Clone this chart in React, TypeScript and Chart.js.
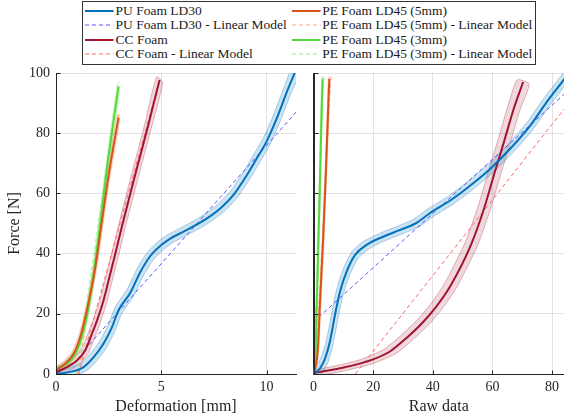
import React, { useEffect, useRef } from 'react';
import { Chart, registerables } from 'chart.js';

Chart.register(...registerables);

// ---------- labels & ticks ----------
const seriesLabels = [
  'PU Foam LD30',
  'PU Foam LD30 - Linear Model',
  'CC Foam',
  'CC Foam - Linear Model',
  'PE Foam LD45 (5mm)',
  'PE Foam LD45 (5mm) - Linear Model',
  'PE Foam LD45 (3mm)',
  'PE Foam LD45 (3mm) - Linear Model',
];
const leftXLabel = 'Deformation [mm]';
const rightXLabel = 'Raw data';
const yLabel = 'Force [N]';
const leftXTicks = [0, 5, 10];
const rightXTicks = [0, 20, 40, 60, 80];
const yTicks = [0, 20, 40, 60, 80, 100];

// ---------- left panel: deformation [mm] vs force [N] ----------
const puDef = [0, 0.68, 1.31, 1.79, 2.26, 2.66, 2.97, 3.53, 4.0, 4.48, 5.03, 5.43, 6.06, 6.7, 7.17, 7.8, 8.43, 9.07, 9.54, 10.0, 10.49, 10.97, 11.36];
const puForceDef = [0, 0.7, 2.3, 5.6, 10.1, 15.6, 21.2, 27.0, 33.8, 39.2, 43.0, 45.0, 47.3, 49.7, 51.7, 55.0, 59.5, 66.1, 71.7, 77.2, 85.0, 93.8, 100.4];
const ccDef = [0, 0.52, 1.0, 1.39, 1.71, 1.95, 2.26, 2.58, 2.82, 3.13, 3.68, 4.32, 4.92];
const ccForceDef = [0.5, 2.3, 4.5, 7.9, 13.4, 17.8, 24.5, 33.4, 40.0, 49.0, 64.0, 81.0, 97.7];
const pe5Def = [0, 0.44, 0.84, 1.15, 1.39, 1.63, 1.87, 2.1, 2.5, 2.97];
const pe5ForceDef = [1.2, 3.5, 6.8, 12.3, 18.9, 26.7, 35.5, 46.6, 66.1, 85.2];
const pe3Def = [0, 0.52, 1.0, 1.31, 1.55, 1.79, 2.02, 2.42, 2.97];
const pe3ForceDef = [1.7, 3.5, 7.9, 14.5, 22.3, 33.4, 45.5, 68.3, 95.5];

const puLinDef = [1.35, 11.6];
const puLinForceDef = [8.0, 88.5];
const ccLinDef = [1.07, 4.95];
const ccLinForceDef = [0, 98.5];
const pe5LinDef = [1.05, 3.0];
const pe5LinForceDef = [0, 87];
const pe3LinDef = [0.98, 2.98];
const pe3LinForceDef = [0, 97];

// ---------- right panel: raw data vs force [N] ----------
const puRaw = [0, 2.2, 3.9, 5.5, 7.2, 8.9, 11.1, 13.9, 17.8, 23.3, 28.9, 34.4, 39.4, 46.1, 52.8, 59.4, 66.1, 72.8, 78.3, 83.9, 86.0];
const puForceRaw = [0, 1.9, 5.2, 10.8, 19.6, 27.4, 34.0, 39.5, 42.9, 45.6, 47.8, 50.1, 53.7, 57.8, 62.8, 68.3, 75.0, 82.7, 90.5, 97.7, 100.4];
const ccRaw = [0, 8.9, 17.8, 25.5, 31.1, 36.7, 41.1, 46.1, 52.8, 57.2, 60.5, 63.9, 67.2, 70.3];
const ccForceRaw = [0.3, 1.9, 4.1, 7.4, 11.9, 17.2, 22.3, 29.6, 42.9, 55.0, 66.1, 77.2, 88.3, 97.0];
const pe5Raw = [0, 1.4, 2.2, 3.3, 4.2, 5.0, 5.3];
const pe5ForceRaw = [0, 7.4, 24.0, 46.2, 68.3, 90.5, 98.0];
const pe3Raw = [0, 0.5, 1.1, 2.0, 2.8, 3.1];
const pe3ForceRaw = [0, 1.9, 24.0, 57.3, 90.5, 98.0];

const puLinRaw = [0, 84];
const puLinForceRaw = [17.3, 92.9];
const ccLinRaw = [14, 84];
const ccLinForceRaw = [0, 88];
const pe5LinRaw = [0.6, 5.9];
const pe5LinForceRaw = [0, 100];
const pe3LinRaw = [0.2, 3.3];
const pe3LinForceRaw = [0, 100];

// spread of the shaded bands (x shift, y shift) per panel
const leftSpread = { pu: [0.15, 1.2], cc: [0.14, 1.0], pe5: [0.06, 0.8], pe3: [0.06, 0.8] };
const rightSpread = { pu: [1.0, 1.2], cc: [2.0, 0.7], pe5: [0.3, 0.6], pe3: [0.3, 0.6] };

// ---------- styles ----------
const FONT = '"Liberation Serif", "DejaVu Serif", serif';
const AXIS = '#262626';
const GRID = 'rgba(38,38,38,0.13)';
const COLORS = {
  pu: '#0072BD', puLin: '#5a5aff', puFill: 'rgba(0,114,189,0.20)', puEdge: 'rgba(0,114,189,0.38)',
  cc: '#A2142F', ccLin: '#ff6666', ccFill: 'rgba(162,20,47,0.16)', ccEdge: 'rgba(162,20,47,0.38)',
  pe5: '#D95319', pe5Lin: '#ffa37a', pe5Fill: 'rgba(217,83,25,0.16)', pe5Edge: 'rgba(217,83,25,0.30)',
  pe3: '#55D93A', pe3Lin: '#85f585', pe3Fill: 'rgba(85,217,58,0.16)', pe3Edge: 'rgba(85,217,58,0.30)',
};

const pts = (xs: number[], ys: number[]) => xs.map((x, i) => ({ x, y: ys[i] }));

function band(xs: number[], ys: number[], s: number[]) {
  const up = xs.map((x, i) => ({ x: x - s[0], y: ys[i] + s[1] }));
  const lo = xs.map((x, i) => ({ x: x + s[0], y: ys[i] - s[1] })).reverse();
  return [...up, ...lo, up[0]];
}

type Mat = { key: 'pu' | 'cc' | 'pe5' | 'pe3'; xs: number[]; ys: number[]; lx: number[]; ly: number[] };

function datasets(mats: Mat[], spread: Record<string, number[]>) {
  const out: any[] = [];
  mats.forEach((m) => {
    const c: any = COLORS;
    out.push({
      data: band(m.xs, m.ys, spread[m.key]),
      borderColor: c[m.key + 'Edge'],
      backgroundColor: c[m.key + 'Fill'],
      borderWidth: 0.8,
      fill: 'shape',
      tension: 0.2,
      pointRadius: 0,
      order: 3,
      clip: 0,
    });
    out.push({
      data: pts(m.lx, m.ly),
      borderColor: c[m.key + 'Lin'],
      borderWidth: 1,
      borderDash: [4, 3],
      fill: false,
      pointRadius: 0,
      order: 2,
      clip: 0,
    });
    out.push({
      data: pts(m.xs, m.ys),
      borderColor: c[m.key],
      borderWidth: 2,
      fill: false,
      cubicInterpolationMode: 'monotone',
      pointRadius: 0,
      order: 1,
      clip: 0,
    });
  });
  return out;
}

const inwardTicks = {
  id: 'inwardTicks',
  afterDraw(chart: any) {
    const { ctx, chartArea, scales } = chart;
    const xs = scales.x;
    const ys = scales.y;
    ctx.save();
    ctx.strokeStyle = AXIS;
    ctx.lineWidth = 1;
    ctx.beginPath();
    const b = Math.round(chartArea.bottom) + 0.5;
    const l = Math.round(chartArea.left) + 0.5;
    xs.ticks.forEach((t: any) => {
      const px = Math.round(xs.getPixelForValue(t.value)) + 0.5;
      ctx.moveTo(px, b);
      ctx.lineTo(px, b - 4);
    });
    ys.ticks.forEach((t: any) => {
      const py = Math.round(ys.getPixelForValue(t.value)) + 0.5;
      ctx.moveTo(l, py);
      ctx.lineTo(l + 4, py);
    });
    ctx.moveTo(l, chartArea.top);
    ctx.lineTo(l, b);
    ctx.lineTo(chartArea.right, b);
    ctx.stroke();
    ctx.restore();
  },
};

function makeConfig(opts: {
  mats: Mat[]; spread: Record<string, number[]>; xMax: number; xTicks: number[];
  xTitle: string; showY: boolean; yWidth: number; padRight: number;
}) {
  return {
    type: 'line',
    data: { datasets: datasets(opts.mats, opts.spread) },
    plugins: [inwardTicks],
    options: {
      animation: false,
      responsive: false,
      maintainAspectRatio: false,
      layout: { padding: { top: 73, right: opts.padRight, left: 0, bottom: 0 } },
      plugins: { legend: { display: false }, tooltip: { enabled: false } },
      scales: {
        x: {
          type: 'linear',
          min: 0,
          max: opts.xMax,
          afterBuildTicks: (s: any) => { s.ticks = opts.xTicks.map((v) => ({ value: v })); },
          afterFit: (s: any) => { s.height = 46; },
          grid: { color: GRID, lineWidth: 1, drawTicks: false },
          border: { display: true, color: AXIS, width: 1 },
          ticks: { padding: 5, color: AXIS, font: { family: FONT, size: 14 }, maxRotation: 0 },
          title: { display: true, text: opts.xTitle, color: AXIS, font: { family: FONT, size: 16 }, padding: { top: 0, bottom: 4 } },
        },
        y: {
          type: 'linear',
          min: 0,
          max: 100,
          afterBuildTicks: (s: any) => { s.ticks = yTicks.map((v) => ({ value: v })); },
          afterFit: (s: any) => { s.width = opts.yWidth; },
          grid: { color: GRID, lineWidth: 1, drawTicks: false },
          border: { display: true, color: AXIS, width: 1 },
          ticks: { display: opts.showY, padding: 6, color: AXIS, font: { family: FONT, size: 14 } },
          title: { display: opts.showY, text: yLabel, color: AXIS, font: { family: FONT, size: 16 }, padding: { top: 5, bottom: 0 } },
        },
      },
    },
  };
}

const legendLayout = [
  { i: 0, col: 0, row: 0 }, { i: 1, col: 0, row: 1 }, { i: 2, col: 0, row: 2 }, { i: 3, col: 0, row: 3 },
  { i: 4, col: 1, row: 0 }, { i: 5, col: 1, row: 1 }, { i: 6, col: 1, row: 2 }, { i: 7, col: 1, row: 3 },
];
const legendColors = [COLORS.pu, COLORS.puLin, COLORS.cc, COLORS.ccLin, COLORS.pe5, COLORS.pe5Lin, COLORS.pe3, COLORS.pe3Lin];

export default function App() {
  const leftRef = useRef<HTMLCanvasElement>(null);
  const rightRef = useRef<HTMLCanvasElement>(null);

  useEffect(() => {
    const leftMats: Mat[] = [
      { key: 'pu', xs: puDef, ys: puForceDef, lx: puLinDef, ly: puLinForceDef },
      { key: 'cc', xs: ccDef, ys: ccForceDef, lx: ccLinDef, ly: ccLinForceDef },
      { key: 'pe5', xs: pe5Def, ys: pe5ForceDef, lx: pe5LinDef, ly: pe5LinForceDef },
      { key: 'pe3', xs: pe3Def, ys: pe3ForceDef, lx: pe3LinDef, ly: pe3LinForceDef },
    ];
    const rightMats: Mat[] = [
      { key: 'pu', xs: puRaw, ys: puForceRaw, lx: puLinRaw, ly: puLinForceRaw },
      { key: 'cc', xs: ccRaw, ys: ccForceRaw, lx: ccLinRaw, ly: ccLinForceRaw },
      { key: 'pe5', xs: pe5Raw, ys: pe5ForceRaw, lx: pe5LinRaw, ly: pe5LinForceRaw },
      { key: 'pe3', xs: pe3Raw, ys: pe3ForceRaw, lx: pe3LinRaw, ly: pe3LinForceRaw },
    ];
    const c1 = new Chart(leftRef.current as HTMLCanvasElement, makeConfig({
      mats: leftMats, spread: leftSpread, xMax: 11.4, xTicks: leftXTicks, xTitle: leftXLabel,
      showY: true, yWidth: 56, padRight: 9,
    }) as any);
    const c2 = new Chart(rightRef.current as HTMLCanvasElement, makeConfig({
      mats: rightMats, spread: rightSpread, xMax: 84, xTicks: rightXTicks, xTitle: rightXLabel,
      showY: false, yWidth: 7, padRight: 0,
    }) as any);
    return () => { c1.destroy(); c2.destroy(); };
  }, []);

  return (
    <div style={{ position: 'fixed', left: 0, top: 0, width: 564, height: 420, background: '#fff', overflow: 'hidden' }}>
      <canvas ref={leftRef} width={305} height={420} style={{ position: 'absolute', left: 0, top: 0, width: 305, height: 420 }} />
      <canvas ref={rightRef} width={259} height={420} style={{ position: 'absolute', left: 305, top: 0, width: 259, height: 420 }} />
      <div style={{
        position: 'absolute', left: 82, top: 1, width: 454, height: 64, border: '1px solid #333',
        background: '#fff', boxSizing: 'border-box',
      }} />
      {legendLayout.map(({ i, col, row }) => {
        const cy = 10.7 + row * 14.5;
        const sx = col === 0 ? 85 : 291.7;
        const dashed = i % 2 === 1;
        return (
          <React.Fragment key={i}>
            <svg width={29} height={6} style={{ position: 'absolute', left: sx, top: cy - 3 }}>
              <line x1={0} y1={3} x2={28.5} y2={3} stroke={legendColors[i]} strokeWidth={dashed ? 1 : 2}
                strokeDasharray={dashed ? '4 3' : undefined} />
            </svg>
            <div style={{
              position: 'absolute', left: sx + 30.5, top: cy - 8, height: 16, lineHeight: '16px',
              fontFamily: FONT, fontSize: 13.5, color: '#1a1a1a', whiteSpace: 'nowrap',
            }}>{seriesLabels[i]}</div>
          </React.Fragment>
        );
      })}
    </div>
  );
}
